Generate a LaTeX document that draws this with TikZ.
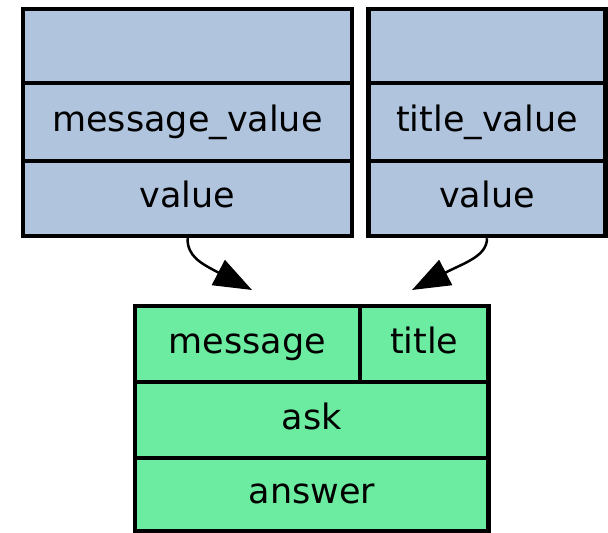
\documentclass[tikz,border=0pt]{standalone}
\usepackage{fontspec}
\setmainfont{DejaVu Sans}
\usetikzlibrary{arrows.meta}
\definecolor{cellblue}{RGB}{176,196,222}
\definecolor{cellgreen}{RGB}{108,236,160}
\tikzset{
  cell/.style={draw=black, line width=4.5pt, inner sep=0pt, text height=24pt, text depth=5pt, font=\fontsize{35}{40}\selectfont},
  bluecell/.style={cell, fill=cellblue},
  greencell/.style={cell, fill=cellgreen},
  flow/.style={draw=black, line width=2.5pt, -{Triangle[length=38pt,width=28pt]}}
}
\begin{document}
\begin{tikzpicture}[x=1pt,y=1pt]
\useasboundingbox (0,0) rectangle (608,533);
% left box
\node[bluecell, minimum width=329pt, minimum height=74pt] (l1) at (187.5,487) {};
\node[bluecell, minimum width=329pt, minimum height=78pt] (l2) at (187.5,411) {message\_value};
\node[bluecell, minimum width=329pt, minimum height=75pt] (l3) at (187.5,334.5) {value};
% right box
\node[bluecell, minimum width=237pt, minimum height=74pt] (r1) at (487,487) {};
\node[bluecell, minimum width=237pt, minimum height=78pt] (r2) at (487,411) {title\_value};
\node[bluecell, minimum width=237pt, minimum height=75pt] (r3) at (487,334.5) {value};
% bottom box
\node[greencell, minimum width=225pt, minimum height=76pt] (b1) at (247.5,189) {message};
\node[greencell, minimum width=128.5pt, minimum height=76pt] (b2) at (424.25,189) {title};
\node[greencell, minimum width=353.5pt, minimum height=76pt] (b3) at (311.75,113) {ask};
\node[greencell, minimum width=353.5pt, minimum height=73pt] (b4) at (311.75,38.5) {answer};
% arrows
\coordinate (tipL) at (252,243);
\coordinate (tipR) at (412,243);
\draw[flow] (l3.south) .. controls +(0,-18) and +(-52,27) .. (tipL);
\draw[flow] (r3.south) .. controls +(0,-18) and +(52,27) .. (tipR);
\end{tikzpicture}
\end{document}
